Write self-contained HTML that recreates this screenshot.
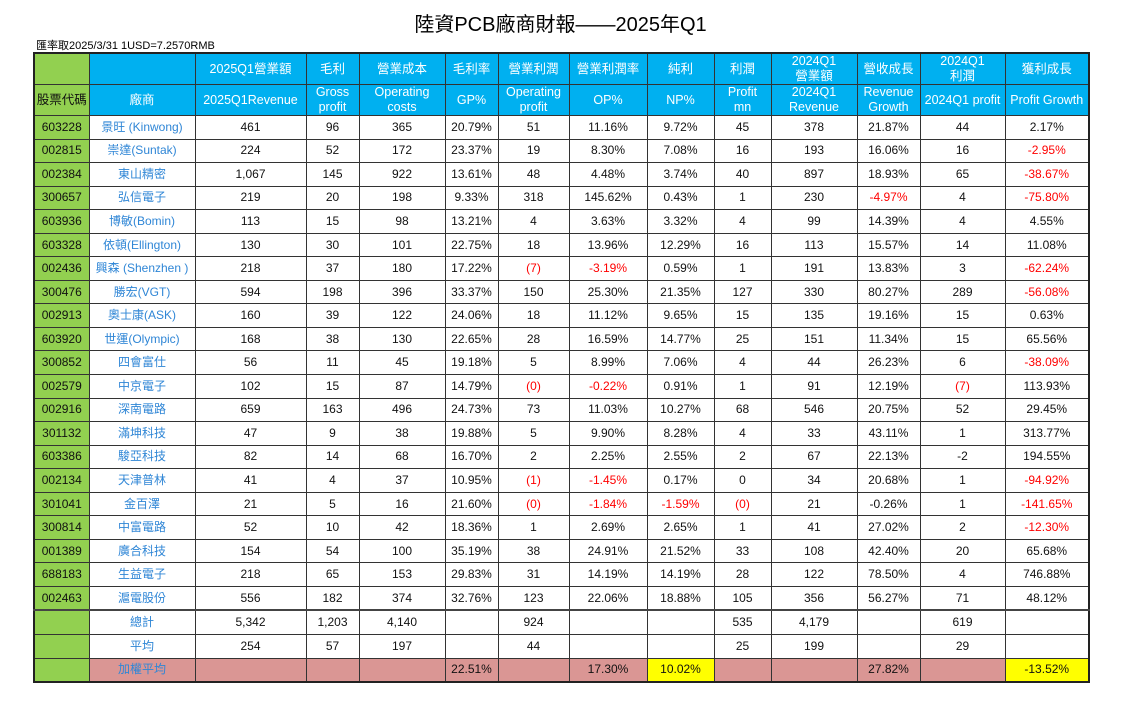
<!DOCTYPE html>
<html><head><meta charset="utf-8"><style>
body{margin:0;width:1121px;height:716px;background:#fff;font-family:"Liberation Sans","Noto Sans CJK TC",sans-serif;position:relative;overflow:hidden}
.t{position:absolute;left:0;width:1121px;top:8px;text-align:center;font-size:20px;color:#000}
.s{position:absolute;left:36px;top:37px;font-size:11px;color:#000}
table{position:absolute;left:33px;top:52px;border-collapse:collapse;table-layout:fixed;width:1056px;font-size:12px}
td{border:1px solid #333;text-align:center;padding:0;height:22.55px;line-height:13px;color:#111;white-space:nowrap;overflow:hidden}
table{border:2px solid #222}
tr.h td{background:#00b0f0;color:#fff;height:29px;line-height:15px;font-size:12.5px}
td.g{background:#92d050!important;color:#111!important}
td.n{color:#2f86d6}
.r{color:#f00}
tr.w td{background:#da9694}
td.y{background:#ff0!important}
tr.d td{border-bottom:2px solid #444}
</style></head><body>
<div class="t">陸資PCB廠商財報——2025年Q1</div>
<div class="s">匯率取2025/3/31 1USD=7.2570RMB</div>
<table>
<colgroup><col style="width:55px"><col style="width:106px"><col style="width:111px"><col style="width:53px"><col style="width:86px"><col style="width:53px"><col style="width:71px"><col style="width:78px"><col style="width:67px"><col style="width:57px"><col style="width:86px"><col style="width:63px"><col style="width:85px"><col style="width:84px"></colgroup>
<tr class="h"><td class="g"></td><td></td><td>2025Q1營業額</td><td>毛利</td><td>營業成本</td><td>毛利率</td><td>營業利潤</td><td>營業利潤率</td><td>純利</td><td>利潤</td><td>2024Q1<br>營業額</td><td>營收成長</td><td>2024Q1<br>利潤</td><td>獲利成長</td></tr>
<tr class="h"><td class="g">股票代碼</td><td>廠商</td><td>2025Q1Revenue</td><td>Gross<br>profit</td><td>Operating<br>costs</td><td>GP%</td><td>Operating<br>profit</td><td>OP%</td><td>NP%</td><td>Profit<br>mn</td><td>2024Q1<br>Revenue</td><td>Revenue<br>Growth</td><td>2024Q1 profit</td><td>Profit Growth</td></tr>
<tr><td class="g">603228</td><td class="n">景旺 (Kinwong)</td><td>461</td><td>96</td><td>365</td><td>20.79%</td><td>51</td><td>11.16%</td><td>9.72%</td><td>45</td><td>378</td><td>21.87%</td><td>44</td><td>2.17%</td></tr>
<tr><td class="g">002815</td><td class="n">崇達(Suntak)</td><td>224</td><td>52</td><td>172</td><td>23.37%</td><td>19</td><td>8.30%</td><td>7.08%</td><td>16</td><td>193</td><td>16.06%</td><td>16</td><td class="r">-2.95%</td></tr>
<tr><td class="g">002384</td><td class="n">東山精密</td><td>1,067</td><td>145</td><td>922</td><td>13.61%</td><td>48</td><td>4.48%</td><td>3.74%</td><td>40</td><td>897</td><td>18.93%</td><td>65</td><td class="r">-38.67%</td></tr>
<tr><td class="g">300657</td><td class="n">弘信電子</td><td>219</td><td>20</td><td>198</td><td>9.33%</td><td>318</td><td>145.62%</td><td>0.43%</td><td>1</td><td>230</td><td class="r">-4.97%</td><td>4</td><td class="r">-75.80%</td></tr>
<tr><td class="g">603936</td><td class="n">博敏(Bomin)</td><td>113</td><td>15</td><td>98</td><td>13.21%</td><td>4</td><td>3.63%</td><td>3.32%</td><td>4</td><td>99</td><td>14.39%</td><td>4</td><td>4.55%</td></tr>
<tr><td class="g">603328</td><td class="n">依頓(Ellington)</td><td>130</td><td>30</td><td>101</td><td>22.75%</td><td>18</td><td>13.96%</td><td>12.29%</td><td>16</td><td>113</td><td>15.57%</td><td>14</td><td>11.08%</td></tr>
<tr><td class="g">002436</td><td class="n">興森 (Shenzhen )</td><td>218</td><td>37</td><td>180</td><td>17.22%</td><td class="r">(7)</td><td class="r">-3.19%</td><td>0.59%</td><td>1</td><td>191</td><td>13.83%</td><td>3</td><td class="r">-62.24%</td></tr>
<tr><td class="g">300476</td><td class="n">勝宏(VGT)</td><td>594</td><td>198</td><td>396</td><td>33.37%</td><td>150</td><td>25.30%</td><td>21.35%</td><td>127</td><td>330</td><td>80.27%</td><td>289</td><td class="r">-56.08%</td></tr>
<tr><td class="g">002913</td><td class="n">奧士康(ASK)</td><td>160</td><td>39</td><td>122</td><td>24.06%</td><td>18</td><td>11.12%</td><td>9.65%</td><td>15</td><td>135</td><td>19.16%</td><td>15</td><td>0.63%</td></tr>
<tr><td class="g">603920</td><td class="n">世運(Olympic)</td><td>168</td><td>38</td><td>130</td><td>22.65%</td><td>28</td><td>16.59%</td><td>14.77%</td><td>25</td><td>151</td><td>11.34%</td><td>15</td><td>65.56%</td></tr>
<tr><td class="g">300852</td><td class="n">四會富仕</td><td>56</td><td>11</td><td>45</td><td>19.18%</td><td>5</td><td>8.99%</td><td>7.06%</td><td>4</td><td>44</td><td>26.23%</td><td>6</td><td class="r">-38.09%</td></tr>
<tr><td class="g">002579</td><td class="n">中京電子</td><td>102</td><td>15</td><td>87</td><td>14.79%</td><td class="r">(0)</td><td class="r">-0.22%</td><td>0.91%</td><td>1</td><td>91</td><td>12.19%</td><td class="r">(7)</td><td>113.93%</td></tr>
<tr><td class="g">002916</td><td class="n">深南電路</td><td>659</td><td>163</td><td>496</td><td>24.73%</td><td>73</td><td>11.03%</td><td>10.27%</td><td>68</td><td>546</td><td>20.75%</td><td>52</td><td>29.45%</td></tr>
<tr><td class="g">301132</td><td class="n">滿坤科技</td><td>47</td><td>9</td><td>38</td><td>19.88%</td><td>5</td><td>9.90%</td><td>8.28%</td><td>4</td><td>33</td><td>43.11%</td><td>1</td><td>313.77%</td></tr>
<tr><td class="g">603386</td><td class="n">駿亞科技</td><td>82</td><td>14</td><td>68</td><td>16.70%</td><td>2</td><td>2.25%</td><td>2.55%</td><td>2</td><td>67</td><td>22.13%</td><td>-2</td><td>194.55%</td></tr>
<tr><td class="g">002134</td><td class="n">天津普林</td><td>41</td><td>4</td><td>37</td><td>10.95%</td><td class="r">(1)</td><td class="r">-1.45%</td><td>0.17%</td><td>0</td><td>34</td><td>20.68%</td><td>1</td><td class="r">-94.92%</td></tr>
<tr><td class="g">301041</td><td class="n">金百澤</td><td>21</td><td>5</td><td>16</td><td>21.60%</td><td class="r">(0)</td><td class="r">-1.84%</td><td class="r">-1.59%</td><td class="r">(0)</td><td>21</td><td>-0.26%</td><td>1</td><td class="r">-141.65%</td></tr>
<tr><td class="g">300814</td><td class="n">中富電路</td><td>52</td><td>10</td><td>42</td><td>18.36%</td><td>1</td><td>2.69%</td><td>2.65%</td><td>1</td><td>41</td><td>27.02%</td><td>2</td><td class="r">-12.30%</td></tr>
<tr><td class="g">001389</td><td class="n">廣合科技</td><td>154</td><td>54</td><td>100</td><td>35.19%</td><td>38</td><td>24.91%</td><td>21.52%</td><td>33</td><td>108</td><td>42.40%</td><td>20</td><td>65.68%</td></tr>
<tr><td class="g">688183</td><td class="n">生益電子</td><td>218</td><td>65</td><td>153</td><td>29.83%</td><td>31</td><td>14.19%</td><td>14.19%</td><td>28</td><td>122</td><td>78.50%</td><td>4</td><td>746.88%</td></tr>
<tr class="d"><td class="g">002463</td><td class="n">滬電股份</td><td>556</td><td>182</td><td>374</td><td>32.76%</td><td>123</td><td>22.06%</td><td>18.88%</td><td>105</td><td>356</td><td>56.27%</td><td>71</td><td>48.12%</td></tr>
<tr><td class="g"></td><td class="n">總計</td><td>5,342</td><td>1,203</td><td>4,140</td><td></td><td>924</td><td></td><td></td><td>535</td><td>4,179</td><td></td><td>619</td><td></td></tr>
<tr><td class="g"></td><td class="n">平均</td><td>254</td><td>57</td><td>197</td><td></td><td>44</td><td></td><td></td><td>25</td><td>199</td><td></td><td>29</td><td></td></tr>
<tr class="w"><td class="g"></td><td class="n">加權平均</td><td></td><td></td><td></td><td>22.51%</td><td></td><td>17.30%</td><td class="y">10.02%</td><td></td><td></td><td>27.82%</td><td></td><td class="y">-13.52%</td></tr>
</table>
</body></html>
